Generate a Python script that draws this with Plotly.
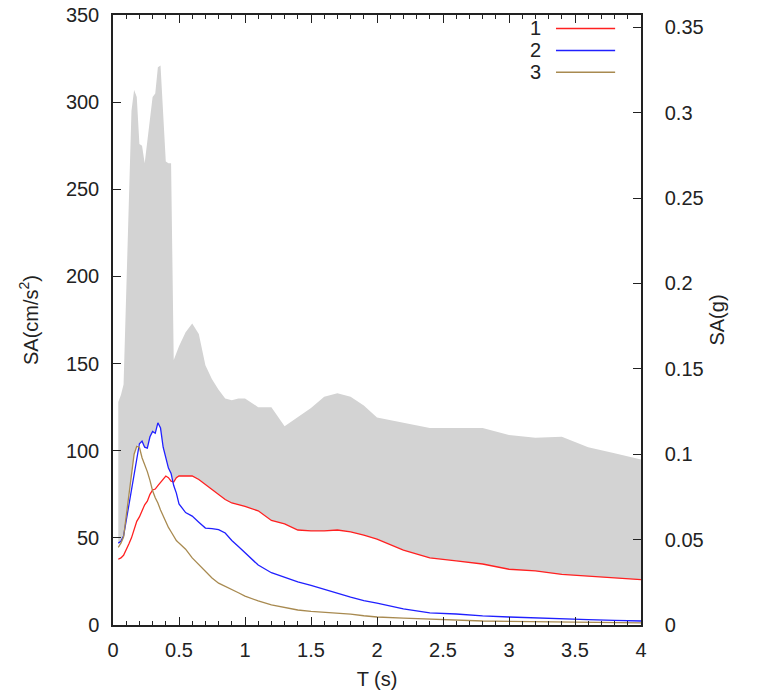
import plotly.graph_objects as go

# Period grid (s)
T = [0.04, 0.06, 0.08, 0.10, 0.12, 0.14, 0.16, 0.18, 0.20, 0.22, 0.24, 0.26, 0.28,
     0.30, 0.32, 0.34, 0.36, 0.38, 0.40, 0.42, 0.44, 0.46, 0.48, 0.50, 0.55, 0.60,
     0.65, 0.70, 0.75, 0.80, 0.85, 0.90, 0.95, 1.0, 1.1, 1.2, 1.3, 1.4, 1.5, 1.6,
     1.7, 1.8, 1.9, 2.0, 2.2, 2.4, 2.6, 2.8, 3.0, 3.2, 3.4, 3.6, 3.8, 4.0]

# Upper envelope of the grey band (cm/s^2)
upper = [128, 132, 138, 190, 245, 295, 307, 303, 276, 275, 265, 278, 292,
         303, 305, 320, 321, 290, 266, 265, 265, 152, 156, 160, 168, 173,
         167, 149, 141, 135, 130, 129, 130, 130, 125, 125, 114, 119, 124.5, 131,
         133, 131, 126, 119, 116, 113, 113, 113, 109, 107.5, 108, 102, 98.5, 95]

s1 = [37.7, 38.5, 40, 43, 46.5, 50, 55, 59.5, 62, 66, 69, 71, 75,
      77.5, 78, 80, 82, 84, 85.5, 84.5, 82.5, 82, 84.5, 85.5, 85.5, 85.5,
      83.5, 80.5, 77.5, 74.5, 72, 70, 69, 68, 65.5, 60, 58, 54.5, 54, 54,
      54.5, 53.4, 51.5, 49.3, 43, 38.5, 36.8, 35, 32, 31, 29, 28, 27, 26]

s2 = [47, 48, 51, 60, 70, 79, 86, 97, 104, 105.5, 102, 101.5, 108,
      111, 110, 116, 113, 102, 96, 90, 87, 80, 75.7, 69.5, 64.5, 62.5,
      59, 55.6, 55.3, 54.7, 52.8, 48.5, 45, 41.3, 34.4, 30, 27.5, 24.7, 22.7, 20.4,
      18.4, 16, 14, 12.6, 9.2, 7, 6.3, 5.2, 4.6, 4, 3.5, 3.1, 2.7, 2.3]

s3 = [44.5, 47, 50.5, 62, 74, 86, 98, 102.5, 102, 96, 92.5, 88, 83,
      77, 73, 70, 66, 62.5, 59, 56, 53.5, 51, 48.5, 47, 43.5, 38.5,
      34.5, 30.5, 27, 24, 22.3, 20.5, 18.5, 16.6, 13.8, 11.5, 10, 8.6, 7.8, 7.3,
      6.9, 6.2, 5.3, 4.6, 4, 3.4, 2.9, 2.3, 2.1, 1.9, 1.7, 1.5, 1.3, 1.2]

names = ["1", "2", "3"]
colors = ["#ff2020", "#2020ff", "#a88a50"]
G = 980.0

lower = [max(a, b, c) for a, b, c in zip(s1, s2, s3)]

fig = go.Figure()
fig.add_trace(go.Scatter(x=T, y=lower, mode="lines", line=dict(width=0, color="#d3d3d3"),
                         showlegend=False, hoverinfo="skip"))
fig.add_trace(go.Scatter(x=T, y=upper, mode="lines", line=dict(width=0, color="#d3d3d3"),
                         fill="tonexty", fillcolor="#d3d3d3", showlegend=False))
for nm, col, s in zip(names, colors, [s1, s2, s3]):
    fig.add_trace(go.Scatter(x=T, y=s, mode="lines", name=nm,
                             line=dict(color=col, width=1.3), showlegend=False))
# invisible trace to anchor the g axis
fig.add_trace(go.Scatter(x=T, y=[u / G for u in upper], yaxis="y2", mode="lines",
                         line=dict(width=0), opacity=0, showlegend=False, hoverinfo="skip"))

font = "Liberation Sans, Arial, sans-serif"
fs = 20
fig.update_layout(
    width=757, height=697,
    margin=dict(l=113, r=116, t=15, b=72, autoexpand=False),
    paper_bgcolor="white", plot_bgcolor="white",
    font=dict(family=font, size=fs, color="#222"),
    xaxis=dict(range=[0, 4], dtick=0.5, ticks="inside", ticklen=8, tickwidth=1,
               tickcolor="#222", showline=True, linecolor="#222", linewidth=1.5,
               mirror="ticks", showgrid=False, zeroline=False, automargin=False,
               ticklabelstandoff=6, ticklabeloverflow="allow",
               minor=dict(dtick=0.1, ticks="inside", ticklen=4, tickcolor="#222", showgrid=False),
               title=dict(text="T (s)", font=dict(size=fs), standoff=12)),
    yaxis=dict(range=[0, 350], dtick=50, ticks="inside", ticklen=8, tickcolor="#222",
               showline=True, linecolor="#222", linewidth=1.5, showgrid=False, zeroline=False,
               ticklabelstandoff=8, automargin=False, ticklabeloverflow="allow",
               title=dict(text="SA(cm/s<sup>2</sup>)", font=dict(size=fs), standoff=22)),
    yaxis2=dict(range=[0, 350 / G], dtick=0.05, overlaying="y", side="right",
                ticks="inside", ticklen=8, tickcolor="#222", showline=True,
                linecolor="#222", linewidth=1.5, showgrid=False, zeroline=False,
                ticklabelstandoff=18, automargin=False, ticklabeloverflow="allow",
                title=dict(text="SA(g)", font=dict(size=fs), standoff=7)),
)

# legend drawn inside the top-right corner: label then line sample
leg_y = [0.978, 0.942, 0.906]
for nm, col, yy in zip(names, colors, leg_y):
    fig.add_annotation(xref="paper", yref="paper", x=0.815, y=yy, text=nm,
                       showarrow=False, xanchor="right", yanchor="middle",
                       font=dict(size=fs, color="#222"))
    fig.add_shape(type="line", xref="paper", yref="paper", x0=0.839, x1=0.951,
                  y0=yy, y1=yy, line=dict(color=col, width=1.5))

fig.write_html("out.html", config={"displayModeBar": False},
               post_script="document.body.style.margin='0';")
